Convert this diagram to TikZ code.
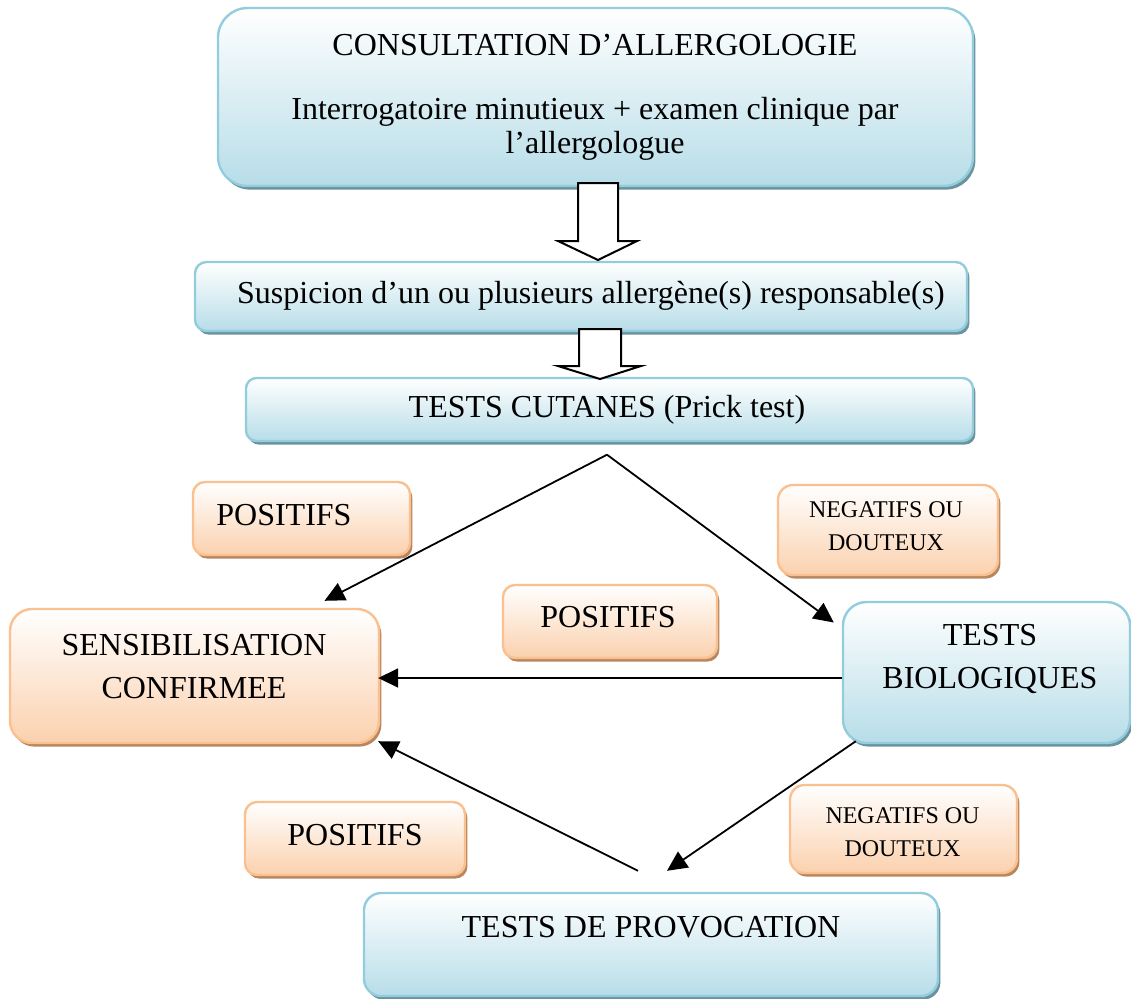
\documentclass[tikz,border=0pt]{standalone}
\usepackage{fontspec}
\setmainfont{Liberation Serif}
\usetikzlibrary{shadows,arrows.meta,calc}
\definecolor{bBorder}{HTML}{93CDDD}
\definecolor{bFill}{HTML}{B7DDE8}
\definecolor{bShadow}{HTML}{6A939E}
\definecolor{oBorder}{HTML}{FAC08F}
\definecolor{oFill}{HTML}{FBD1AE}
\definecolor{oShadow}{HTML}{B88760}
\tikzset{
  boxbase/.style={draw, line width=1.2pt, inner sep=0pt},
  bluebox/.style={boxbase, draw=bBorder, top color=white, bottom color=bFill,
    drop shadow={shadow xshift=1.2pt, shadow yshift=-1.8pt, fill=bShadow, opacity=1}},
  orangebox/.style={boxbase, draw=oBorder, top color=white, bottom color=oFill,
    drop shadow={shadow xshift=1.2pt, shadow yshift=-1.8pt, fill=oShadow, opacity=1}},
  big/.style={font=\fontsize{16}{17}\selectfont, align=center, inner sep=0pt},
  bigwide/.style={font=\fontsize{16}{21.5}\selectfont, align=center, inner sep=0pt},
  small/.style={font=\fontsize{12}{16.5}\selectfont, align=center, inner sep=0pt},
  arr/.style={line width=0.9pt, -{Triangle[length=10pt,width=9.5pt]}},
  hollow/.style={draw=black, fill=white, line width=1pt, line join=miter}
}
\begin{document}
\begin{tikzpicture}[x=0.5pt,y=-0.5pt]
\useasboundingbox (0,0) rectangle (1131,998);
% boxes
\node[bluebox, rounded corners=14.8pt, minimum width=377.5pt, minimum height=89pt] (top) at (595.5,97) {};
\node[bluebox, rounded corners=5.75pt, minimum width=386pt, minimum height=34.5pt] (susp) at (581,296.5) {};
\node[bluebox, rounded corners=5.25pt, minimum width=363.5pt, minimum height=31.5pt] (cut) at (609.5,409.5) {};
\node[orangebox, rounded corners=6pt, minimum width=108.5pt, minimum height=36.5pt] (pos1) at (301.5,518.5) {};
\node[orangebox, rounded corners=7.5pt, minimum width=110pt, minimum height=45pt] (neg1) at (888,530) {};
\node[orangebox, rounded corners=6pt, minimum width=107pt, minimum height=36.5pt] (pos2) at (610,621.5) {};
\node[orangebox, rounded corners=11pt, minimum width=184.5pt, minimum height=67pt] (sens) at (194.5,676) {};
\node[bluebox, rounded corners=11.75pt, minimum width=143.5pt, minimum height=70.5pt] (bio) at (986.5,672.5) {};
\node[orangebox, rounded corners=7.3pt, minimum width=113.5pt, minimum height=44pt] (neg2) at (903.5,829) {};
\node[orangebox, rounded corners=6pt, minimum width=110pt, minimum height=36.5pt] (pos3) at (355,838.5) {};
\node[bluebox, rounded corners=8.6pt, minimum width=287pt, minimum height=51.5pt] (prov) at (651,944.5) {};
% texts
\node[big] (topT) at (595,97) {CONSULTATION D’ALLERGOLOGIE\\[15pt]Interrogatoire minutieux + examen clinique par\\l’allergologue};
\node[big] (suspT) at (591,296) {Suspicion d’un ou plusieurs allergène(s) responsable(s)};
\node[big] (cutT) at (607,410) {TESTS CUTANES (Prick test)};
\node[big, anchor=west] (pos1T) at (216,515) {POSITIFS};
\node[small] (neg1T) at (886,526.5) {NEGATIFS OU\\DOUTEUX};
\node[big] (pos2T) at (608,617) {POSITIFS};
\node[bigwide] (sensT) at (194,666.5) {SENSIBILISATION\\CONFIRMEE};
\node[bigwide] (bioT) at (990,658.5) {TESTS\\BIOLOGIQUES};
\node[small] (neg2T) at (902.5,832.5) {NEGATIFS OU\\DOUTEUX};
\node[big] (pos3T) at (355,835) {POSITIFS};
\node[big] (provT) at (651,927) {TESTS DE PROVOCATION};
% hollow arrows
\draw[hollow] (578,183) -- (618,183) -- (618,241) -- (637,241) -- (598,260) -- (558,241) -- (578,241) -- cycle;
\draw[hollow] (579,329) -- (621,329) -- (621,366) -- (641,366) -- (600,379) -- (558,366) -- (579,366) -- cycle;
% connectors
\coordinate (split) at ($(cut.south)+(-2.5,12.5)$);
\draw[arr] (split) -- ($(sens.north)+(130,-7)$);
\draw[arr] (split) -- ($(bio.west)+(-8,-50)$);
\draw[arr] ($(bio.west)+(0,5.5)$) -- ($(sens.east)+(-2,2)$);
\draw[arr] ($(bio.south west)+(14,-3)$) -- ($(prov.north)+(16,-21)$);
\draw[arr] ($(prov.north)+(-13,-21)$) -- ($(sens.south east)+(-2,-3)$);
\end{tikzpicture}
\end{document}
